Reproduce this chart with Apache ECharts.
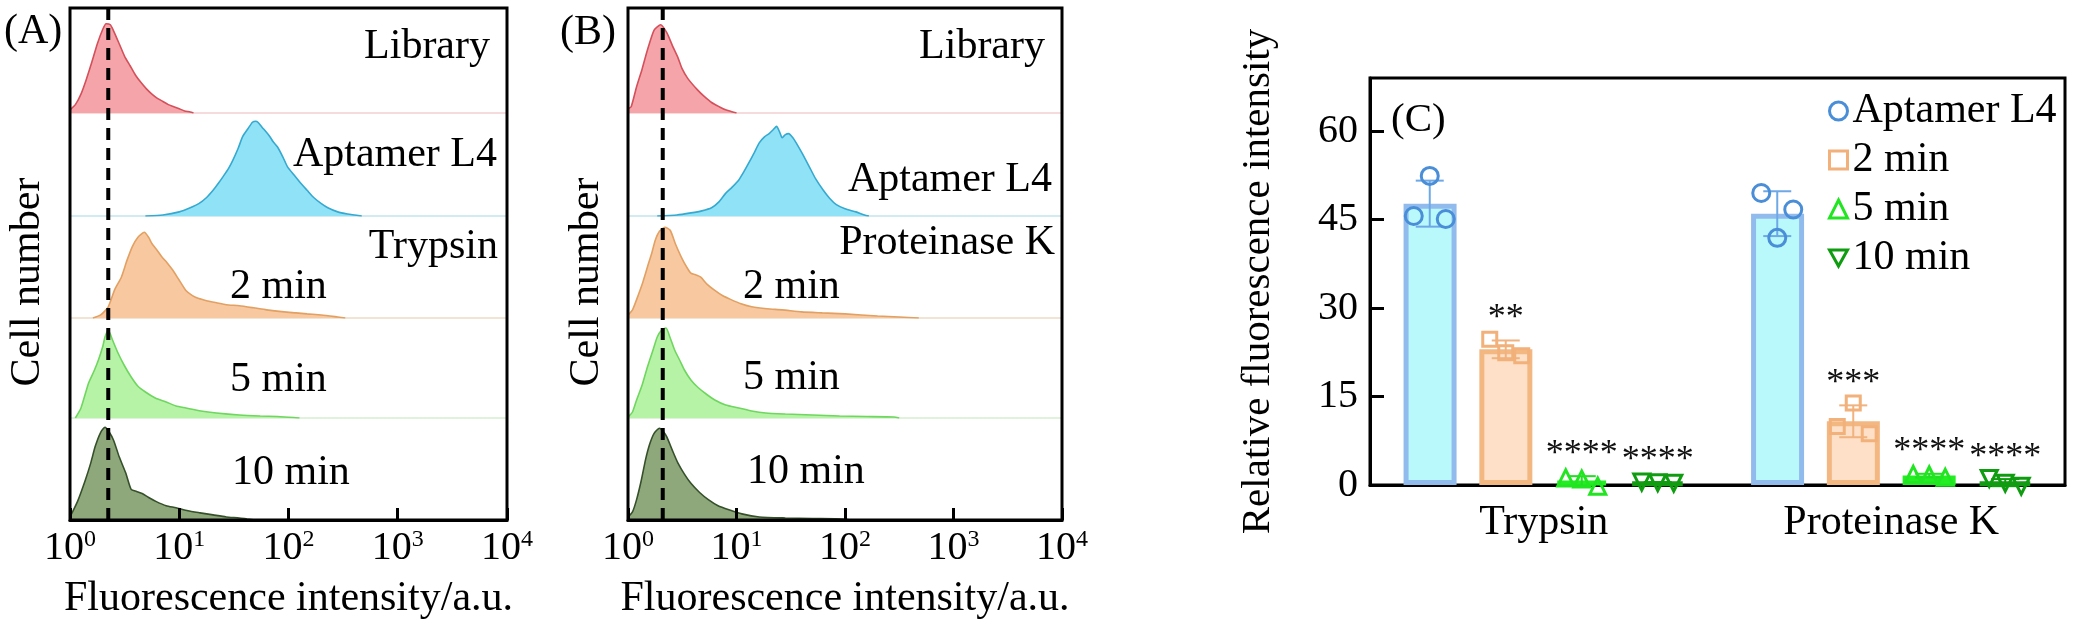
<!DOCTYPE html>
<html>
<head>
<meta charset="utf-8">
<script src="https://cdn.jsdelivr.net/npm/echarts@6/dist/echarts.min.js"></script>
<style>
html,body{margin:0;padding:0;background:#fff;}
#chart{width:2086px;height:630px;}
</style>
</head>
<body>
<div id="chart"></div>
<script>
// ---------- Panel A / B histogram data: [fluorescence intensity, relative cell count] ----------
const histA_library = [[1.00,3],[1.12,8],[1.26,18],[1.41,32],[1.58,48],[1.78,66],[2.00,80],[2.14,85],[2.34,84],[2.51,78],[2.82,66],[3.16,54],[3.55,45],[3.98,36],[4.47,29],[5.01,23],[5.62,18],[6.31,14],[7.08,11],[7.94,8],[8.91,6],[10.0,4],[11.2,2],[12.6,1],[13.5,0]];
const histA_aptamer = [[4.90,0],[7.08,1],[10.0,4],[12.6,8],[15.1,12],[17.8,18],[20.4,25],[22.9,32],[25.1,38],[28.2,46],[30.9,54],[34.7,66],[38.0,77],[42.7,85],[46.8,91],[50.1,92],[52.5,91],[57.5,86],[63.1,81],[67.6,77],[72.4,72],[79.4,67],[89.1,57],[97.7,48],[112,40],[129,32],[148,25],[170,18],[200,12],[229,8],[282,4],[347,2],[468,0]];
const histA_2min = [[1.62,0],[1.91,3],[2.24,11],[2.57,28],[2.95,40],[3.31,56],[3.72,70],[4.17,79],[4.79,84],[5.25,79],[5.62,73],[6.31,66],[6.92,60],[7.76,54],[8.71,47],[10.0,37],[11.5,27],[13.2,22],[15.1,19],[17.8,17],[21.9,15],[26.9,13],[35.5,12],[47.9,10],[63.1,8],[91.2,6],[117,5],[148,4],[200,3],[282,1],[331,0]];
const histA_5min = [[1.12,0],[1.26,10],[1.48,35],[1.66,47],[1.82,58],[2.00,72],[2.09,81],[2.24,88],[2.45,78],[2.75,65],[3.16,52],[3.63,41],[4.17,32],[4.90,26],[6.03,20],[7.59,16],[9.33,12],[11.5,10],[15.8,7],[21.9,5],[35.5,3],[55.0,2],[79.4,1.5],[112,0.5],[126,0]];
const histA_10min = [[1.00,3],[1.17,18],[1.38,39],[1.55,56],[1.70,72],[1.91,86],[2.09,91],[2.29,86],[2.51,78],[2.82,62],[3.24,46],[3.63,30],[4.07,28],[4.57,26],[5.25,22],[6.17,18],[7.59,14],[9.33,12],[12.0,9],[15.5,7],[20.4,5],[26.9,3],[35.5,2],[41.7,1],[50.1,0]];

const histB_library = [[1.00,4],[1.07,6],[1.20,25],[1.35,42],[1.51,60],[1.74,79],[2.00,84],[2.29,76],[2.57,64],[2.88,53],[3.16,42],[3.55,33],[4.37,22],[5.01,16],[5.89,10],[6.92,6],[7.94,3],[8.91,1.5],[10.0,0]];
const histB_aptamer = [[1.86,0],[2.82,1],[3.80,3],[4.79,5],[5.89,8],[6.92,14],[7.94,22],[9.12,28],[10.5,35],[11.7,43],[12.9,51],[14.5,61],[16.2,71],[18.2,77],[20.0,80],[21.9,84],[23.4,87],[25.1,81],[26.3,76],[28.2,79],[30.2,80],[33.1,76],[35.5,71],[40.7,60],[46.8,48],[53.7,36],[63.1,25],[72.4,17],[83.2,11],[100,7],[126,4],[151,1],[166,0]];
const histB_2min = [[1.00,3],[1.10,8],[1.20,18],[1.35,33],[1.51,50],[1.66,64],[1.78,76],[1.95,85],[2.19,89],[2.45,86],[2.75,72],[3.09,60],[3.47,50],[3.80,44],[4.27,42],[4.68,40],[5.37,33],[6.31,27],[7.41,22],[8.91,18],[11.0,14],[13.8,11],[19.1,9],[26.3,8],[39.8,6],[61.7,5],[100,4],[200,2],[316,1],[479,0]];
const histB_5min = [[1.00,1],[1.10,6],[1.20,18],[1.35,33],[1.51,51],[1.70,68],[1.86,81],[2.04,88],[2.24,90],[2.45,80],[2.69,68],[3.02,57],[3.31,48],[3.80,38],[4.37,31],[5.25,24],[6.31,18],[7.94,13],[10.5,10],[13.8,7],[18.6,5],[28.2,4],[50.1,3],[89.1,2],[158,1.5],[282,1],[316,0]];
const histB_10min = [[1.00,3],[1.10,8],[1.20,20],[1.32,38],[1.45,59],[1.58,74],[1.74,85],[1.95,90],[2.14,86],[2.29,81],[2.57,68],[2.88,56],[3.31,45],[3.80,36],[4.57,27],[5.50,20],[6.76,14],[8.51,10],[11.2,6],[16.2,3],[28.2,2],[50.1,1.5],[95.5,1],[112,0]];

const dashA = 2.24;   // library peak reference line, panel A
const dashB = 2.09;   // library peak reference line, panel B
const tickExp = ['0','1','2','3','4'];   // x tick labels 10^n

const rowLabelsA = ['Library','Aptamer L4','Trypsin','2 min','5 min','10 min'];
const rowLabelsB = ['Library','Aptamer L4','Proteinase K','2 min','5 min','10 min'];

// ---------- Panel C data ----------
const groups = ['Trypsin','Proteinase K'];
const seriesNames = ['Aptamer L4','2 min','5 min','10 min'];
const meanApt = [47.7, 46.0], sdApt = [3.9, 3.8], repApt = [[45.6,52.4,45.1],[49.5,41.9,46.7]];
const mean2 = [23.0, 10.8],  sd2 = [1.5, 2.7],  rep2 = [[24.7,22.4,21.9],[9.9,13.9,8.7]];
const mean5 = [0.7, 1.6],    sd5 = [0.8, 0.3],  rep5 = [[1.2,1.0,-0.2],[1.8,1.7,1.3]];
const mean10 = [0.4, 0.4],   sd10 = [0.1, 0.6], rep10 = [[0.5,0.4,0.3],[1.1,0.3,-0.2]];
const sigApt = ['',''], sig2 = ['**','***'], sig5 = ['****','****'], sig10 = ['****','****'];

// ---------- styling ----------
const FONT = 'Liberation Serif';
const histStyles = [
  {line:'#d4505a', fill:'#f5a4aa', base:'#f2cfcf'},
  {line:'#35a9cf', fill:'#90e2f7', base:'#c4e4ee'},
  {line:'#e2a062', fill:'#f8c8a0', base:'#eedcc8'},
  {line:'#6fd65f', fill:'#b6f3a6', base:'#d6eed0'},
  {line:'#35502a', fill:'#8fa87b', base:'#c9d6c0'}
];
const rowTops = [8, 113, 216, 318, 418];
const rowBottoms = [113, 216, 318, 418, 520];
const panels = [
  {left:70, right:2086-507, hists:[histA_library,histA_aptamer,histA_2min,histA_5min,histA_10min], dash:dashA},
  {left:628, right:2086-1062, hists:[histB_library,histB_aptamer,histB_2min,histB_5min,histB_10min], dash:dashB}
];

const grids = [], xAxes = [], yAxes = [], series = [];

panels.forEach(function (p) {
  for (let r = 0; r < 5; r++) {
    const gi = grids.length;
    grids.push({left:p.left, right:p.right, top:rowTops[r], height:rowBottoms[r]-rowTops[r], containLabel:false});
    xAxes.push({type:'log', logBase:10, min:1, max:10000, gridIndex:gi,
      axisLine:{show:true, lineStyle:{color:histStyles[r].base, width:1.5}},
      axisTick:{show:false}, axisLabel:{show:false}, splitLine:{show:false}});
    yAxes.push({type:'value', min:0, max:100, gridIndex:gi, show:false});
    series.push({type:'line', xAxisIndex:gi, yAxisIndex:gi, data:p.hists[r], symbol:'none', smooth:0.2,
      lineStyle:{color:histStyles[r].line, width:1.6}, areaStyle:{color:histStyles[r].fill, opacity:1}, z:2, silent:true});
  }
  const fi = grids.length;
  grids.push({left:p.left, right:p.right, top:8, bottom:630-520, show:true, borderColor:'#000', borderWidth:3, z:5});
  xAxes.push({type:'log', logBase:10, min:1, max:10000, gridIndex:fi, z:5,
    name:'Fluorescence intensity/a.u.', nameLocation:'middle', nameGap:58,
    nameTextStyle:{fontFamily:FONT, fontSize:42, color:'#000'},
    axisLine:{show:true, lineStyle:{color:'#000', width:3}},
    axisTick:{show:true, inside:true, length:12, lineStyle:{color:'#000', width:3}},
    splitLine:{show:false}, minorTick:{show:false},
    axisLabel:{show:true, margin:8, formatter:function (v, i) { return '{b|10}{s|' + tickExp[i] + '}'; },
      rich:{b:{fontFamily:FONT, fontSize:40, lineHeight:40, color:'#000'},
            s:{fontFamily:FONT, fontSize:24, lineHeight:24, verticalAlign:'top', color:'#000'}}}});
  yAxes.push({type:'value', min:0, max:1, gridIndex:fi, axisLine:{show:false}, axisTick:{show:false},
    axisLabel:{show:false}, splitLine:{show:false}});
  series.push({type:'line', xAxisIndex:fi, yAxisIndex:fi, data:[[p.dash,0],[p.dash,1]], symbol:'none',
    lineStyle:{color:'#000', width:4, type:[12,8]}, z:6, silent:true});
});

// ---------- Panel C ----------
const ci = grids.length;
grids.push({left:1370, right:21, top:78, bottom:630-485, show:true, borderColor:'#000', borderWidth:3, z:1});
xAxes.push({type:'category', data:groups, gridIndex:ci,
  axisLine:{show:true, lineStyle:{color:'#000', width:3}}, axisTick:{show:false},
  axisLabel:{fontFamily:FONT, fontSize:42, color:'#000', margin:17}});
yAxes.push({type:'value', min:0, max:69, interval:15, gridIndex:ci,
  name:'Relative fluorescence intensity', nameLocation:'middle', nameGap:91,
  nameTextStyle:{fontFamily:FONT, fontSize:41, color:'#000'},
  axisLine:{show:true, lineStyle:{color:'#000', width:3}},
  axisTick:{show:true, inside:true, length:14, lineStyle:{color:'#000', width:3}},
  axisLabel:{fontFamily:FONT, fontSize:40, color:'#000', margin:12, showMaxLabel:false},
  splitLine:{show:false}});

const BAR_W = 53, BAR_STEP = 76;
const jitter = [-16, 0, 16];
const cDefs = [
  {name:seriesNames[0], mean:meanApt, sd:sdApt, rep:repApt, sig:sigApt, fill:'#b9f9fb', border:'#92bbed', mark:'#4a8ed8', err:'#6ea8e6', symbol:'circle', size:17},
  {name:seriesNames[1], mean:mean2, sd:sd2, rep:rep2, sig:sig2, fill:'#fde0c7', border:'#f3b882', mark:'#f2b07a', err:'#f0b27e', symbol:'rect', size:14},
  {name:seriesNames[2], mean:mean5, sd:sd5, rep:rep5, sig:sig5, fill:'#22ee22', border:'#22ee22', mark:'#22e522', err:'#22dd22', symbol:'triangle', size:16},
  {name:seriesNames[3], mean:mean10, sd:sd10, rep:rep10, sig:sig10, fill:'#169a16', border:'#169a16', mark:'#109c10', err:'#109c10', symbol:'path://M0,0L10,0L5,9Z', size:16}
];

cDefs.forEach(function (d, i) {
  const off = (i - 1.5) * BAR_STEP;
  series.push({type:'bar', name:d.name, xAxisIndex:ci, yAxisIndex:ci, data:d.mean,
    barWidth:BAR_W, barGap:'43%', itemStyle:{color:d.fill, borderColor:d.border, borderWidth:5}, z:2, silent:true});
  series.push({type:'custom', xAxisIndex:ci, yAxisIndex:ci, z:3, silent:true,
    data:d.mean.map(function (m, c) { return [c, m, d.sd[c]]; }),
    renderItem:function (params, api) {
      const c = api.value(0), m = api.value(1), s = api.value(2);
      const top = api.coord([c, m + s]);
      const bot = api.coord([c, m - s]);
      const x = top[0] + off, hw = 14;
      const st = {stroke:d.err, lineWidth:2};
      const children = [
        {type:'line', shape:{x1:x, y1:top[1], x2:x, y2:bot[1]}, style:st},
        {type:'line', shape:{x1:x-hw, y1:top[1], x2:x+hw, y2:top[1]}, style:st},
        {type:'line', shape:{x1:x-hw, y1:bot[1], x2:x+hw, y2:bot[1]}, style:st}
      ];
      const sig = d.sig[params.dataIndex];
      if (sig) {
        children.push({type:'text', style:{text:sig, x:x, y:top[1]-22, align:'center', verticalAlign:'middle',
          font:'36px "' + FONT + '"', fill:'#111'}});
      }
      return {type:'group', children:children};
    }});
  const pts = [];
  d.rep.forEach(function (reps, c) {
    reps.forEach(function (v, j) { pts.push({value:[c, v], symbolOffset:[off + jitter[j], 0]}); });
  });
  series.push({type:'scatter', name:d.name, xAxisIndex:ci, yAxisIndex:ci, data:pts, symbol:d.symbol, symbolSize:d.size,
    clip:false, itemStyle:{color:'rgba(0,0,0,0)', borderColor:d.mark, borderWidth:3, opacity:1}, z:4, silent:true});
});

// ---------- texts ----------
function txt(s, x, y, align, size) {
  return {type:'text', x:x, y:y, silent:true, z:50,
    style:{text:s, font:(size || 42) + 'px "' + FONT + '"', fill:'#000', align:align || 'left', verticalAlign:'middle'}};
}
const graphics = [
  txt('(A)', 4, 32), txt('(B)', 560, 33), txt('(C)', 1391, 120, 'left', 41),
  txt(rowLabelsA[0], 490, 47, 'right'), txt(rowLabelsA[1], 497, 155, 'right'), txt(rowLabelsA[2], 498, 247, 'right'),
  txt(rowLabelsA[3], 230, 287), txt(rowLabelsA[4], 230, 380), txt(rowLabelsA[5], 232, 473),
  txt(rowLabelsB[0], 1045, 47, 'right'), txt(rowLabelsB[1], 1052, 180, 'right'), txt(rowLabelsB[2], 1055, 243, 'right'),
  txt(rowLabelsB[3], 743, 287), txt(rowLabelsB[4], 743, 378), txt(rowLabelsB[5], 747, 472),
  {type:'text', x:28, y:282, rotation:Math.PI/2, silent:true,
    style:{text:'Cell number', font:'42px "' + FONT + '"', fill:'#000', align:'center', verticalAlign:'middle'}},
  {type:'text', x:587, y:282, rotation:Math.PI/2, silent:true,
    style:{text:'Cell number', font:'42px "' + FONT + '"', fill:'#000', align:'center', verticalAlign:'middle'}}
];

const chart = echarts.init(document.getElementById('chart'), null, {renderer:'canvas'});
chart.setOption({
  animation:false,
  backgroundColor:'#fff',
  textStyle:{fontFamily:FONT},
  grid:grids, xAxis:xAxes, yAxis:yAxes, series:series,
  legend:{show:true, orient:'vertical', left:1823, top:85, itemGap:7, itemWidth:18, itemHeight:18, selectedMode:false,
    textStyle:{fontFamily:FONT, fontSize:42, lineHeight:42, color:'#000'},
    data:cDefs.map(function (d) {
      return {name:d.name, icon:d.symbol === 'rect' ? 'rect' : d.symbol,
        itemStyle:{color:'rgba(0,0,0,0)', borderColor:d.mark, borderWidth:3}};
    })},
  graphic:graphics
});
</script>
</body>
</html>
